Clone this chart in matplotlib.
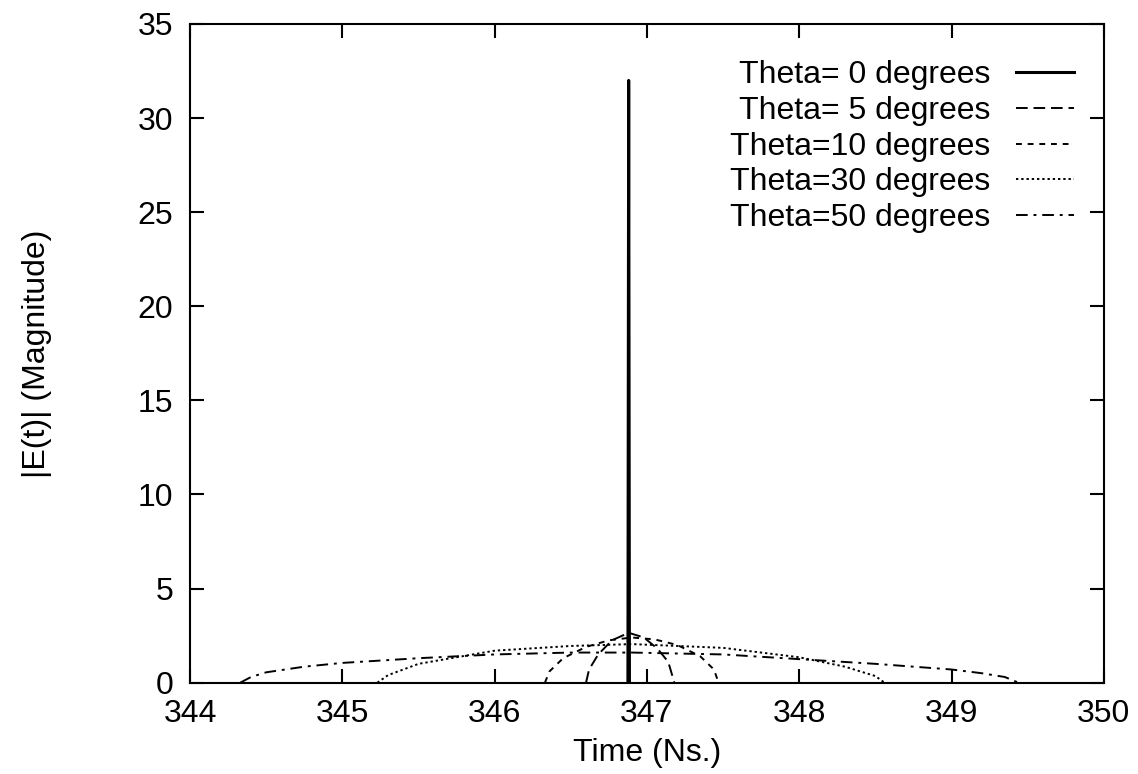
import matplotlib

matplotlib.use("Agg")
import matplotlib.pyplot as plt

plt.rcParams["font.family"] = ["Liberation Sans", "DejaVu Sans"]

# |E(t)| traces, one pair of arrays per angle
t_theta0 = [346.875, 346.88, 346.885]
e_theta0 = [0.0, 32.0, 0.0]

t_theta5 = [346.60, 346.62, 346.68, 346.77, 346.88, 346.98, 347.07, 347.14, 347.18]
e_theta5 = [0.0, 0.7, 1.5, 2.25, 2.65, 2.4, 1.8, 1.1, 0.0]

t_theta10 = [346.33, 346.36, 346.45, 346.60, 346.75, 346.90, 347.05, 347.20, 347.35, 347.44, 347.47]
e_theta10 = [0.0, 0.6, 1.3, 1.9, 2.25, 2.4, 2.3, 2.0, 1.4, 0.7, 0.0]

t_theta30 = [345.23, 345.30, 345.50, 346.00, 346.50, 346.90, 347.50, 348.00, 348.30, 348.50, 348.56]
e_theta30 = [0.0, 0.4, 1.0, 1.7, 1.95, 2.05, 1.85, 1.35, 0.85, 0.35, 0.0]

t_theta50 = [344.33, 344.40, 344.50, 344.75, 345.00, 345.50, 346.00, 346.50, 346.90,
             347.50, 348.00, 348.50, 349.00, 349.20, 349.35, 349.44]
e_theta50 = [0.0, 0.3, 0.55, 0.85, 1.05, 1.3, 1.5, 1.6, 1.6,
             1.5, 1.25, 1.0, 0.7, 0.5, 0.3, 0.0]

labels = ["Theta= 0 degrees", "Theta= 5 degrees", "Theta=10 degrees",
          "Theta=30 degrees", "Theta=50 degrees"]

x_ticks = [344, 345, 346, 347, 348, 349, 350]
y_ticks = [0, 5, 10, 15, 20, 25, 30, 35]

fig = plt.figure(figsize=(11.38, 7.74), dpi=100)
ax = fig.add_axes([0.167, 0.118, 0.803, 0.851])

ax.plot(t_theta0, e_theta0, color="black", linewidth=2.2, label=labels[0])
ax.plot(t_theta5, e_theta5, color="black", linewidth=1.4, dashes=(6, 3), label=labels[1])
ax.plot(t_theta10, e_theta10, color="black", linewidth=1.4, dashes=(3, 3), label=labels[2])
ax.plot(t_theta30, e_theta30, color="black", linewidth=1.4, dashes=(1.2, 1.5), label=labels[3])
ax.plot(t_theta50, e_theta50, color="black", linewidth=1.4, dashes=(6, 3, 1.5, 3), label=labels[4])

ax.set_xlim(344, 350)
ax.set_ylim(0, 35)
ax.set_xticks(x_ticks)
ax.set_yticks(y_ticks)
ax.tick_params(direction="in", length=10, width=1.5, top=True, right=True,
               labelsize=23, pad=12)
for spine in ax.spines.values():
    spine.set_linewidth(1.5)

ax.set_xlabel("Time (Ns.)", fontsize=23, labelpad=6)
ax.set_ylabel("|E(t)| (Magnitude)", fontsize=23, labelpad=62)

ax.legend(loc="upper right", bbox_to_anchor=(0.967, 0.945), frameon=False,
          markerfirst=False, fontsize=23, handlelength=1.8, handletextpad=0.8,
          labelspacing=0.18, borderpad=0, borderaxespad=0)

fig.savefig("out.png", dpi=100)
